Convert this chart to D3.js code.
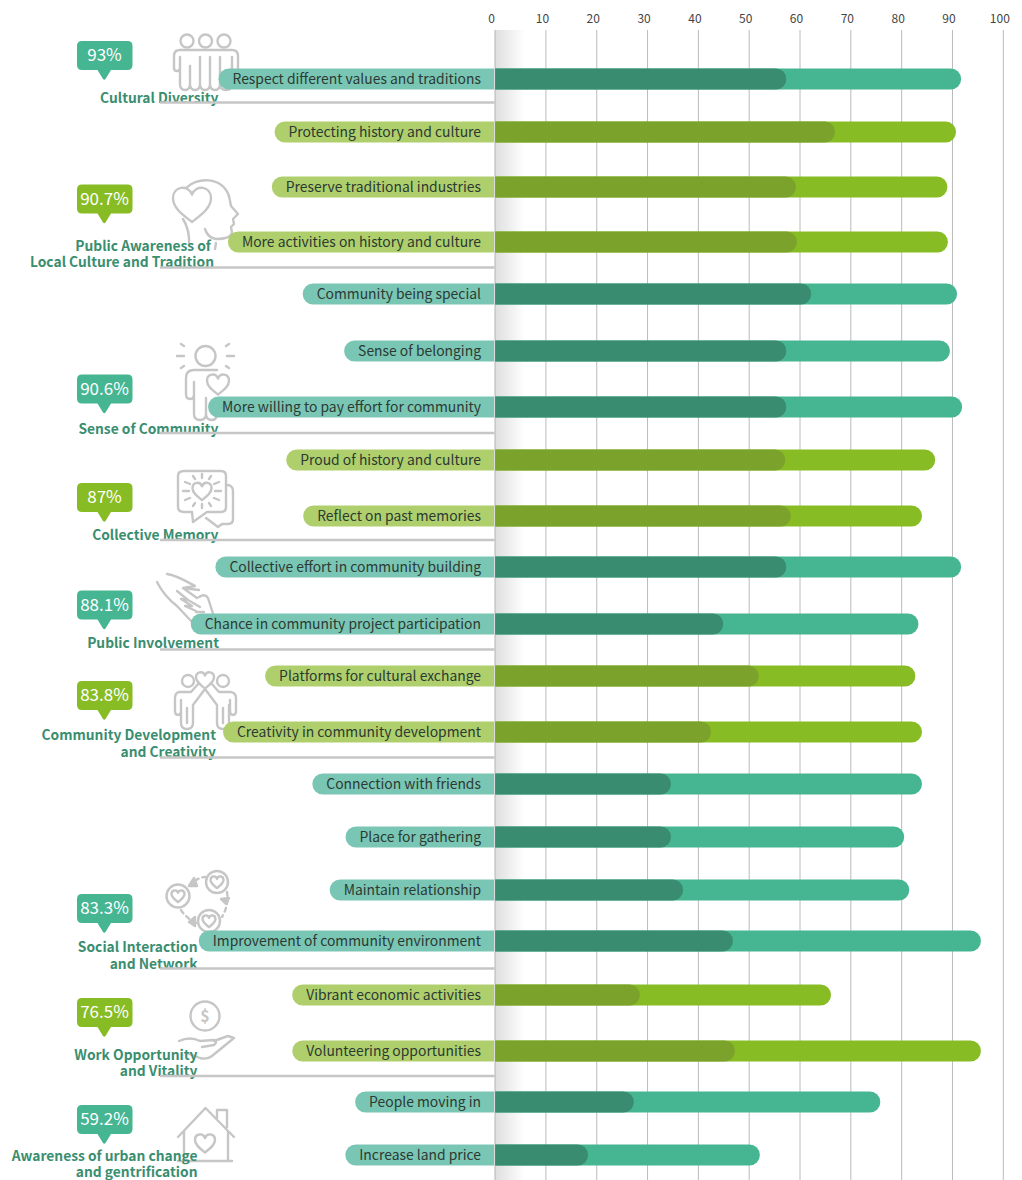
<!DOCTYPE html>
<html>
<head>
<meta charset="utf-8">
<script src="https://cdn.jsdelivr.net/npm/d3@7"></script>
<style>
  html, body { margin: 0; padding: 0; background: #fff; }
  svg { display: block; }
  text { font-family: "Noto Sans CJK TC", "Noto Sans", sans-serif; }
</style>
</head>
<body>
<div id="chart"></div>
<script>
// data
const categories = [
  "Respect different values and traditions", "Protecting history and culture",
  "Preserve traditional industries", "More activities on history and culture",
  "Community being special", "Sense of belonging",
  "More willing to pay effort for community", "Proud of history and culture",
  "Reflect on past memories", "Collective effort in community building",
  "Chance in community project participation", "Platforms for cultural exchange",
  "Creativity in community development", "Connection with friends",
  "Place for gathering", "Maintain relationship",
  "Improvement of community environment", "Vibrant economic activities",
  "Volunteering opportunities", "People moving in", "Increase land price"
];
const totalValues = [91.8, 90.8, 89.1, 89.2, 91, 89.6, 92, 86.7, 84.1, 91.8, 83.4, 82.8, 84.1, 84.1, 80.6, 81.6, 95.7, 66.2, 95.7, 75.9, 52.2];
const strongValues = [57.4, 67, 59.3, 59.5, 62.3, 57.4, 57.4, 57.2, 58.3, 57.4, 45, 52, 42.6, 34.7, 34.7, 37.1, 46.9, 28.6, 47.3, 27.4, 18.4];
const barTheme = [0, 1, 1, 1, 0, 0, 0, 1, 1, 0, 0, 1, 1, 0, 0, 0, 0, 1, 1, 0, 0];
const axisTicks = [0, 10, 20, 30, 40, 50, 60, 70, 80, 90, 100];

const groupNames = [
  ["Cultural Diversity"],
  ["Public Awareness of", "Local Culture and Tradition"],
  ["Sense of Community"],
  ["Collective Memory"],
  ["Public Involvement"],
  ["Community Development", "and Creativity"],
  ["Social Interaction", "and Network"],
  ["Work Opportunity", "and Vitality"],
  ["Awareness of urban change", "and gentrification"]
];
const groupPercents = ["93%", "90.7%", "90.6%", "87%", "88.1%", "83.8%", "83.3%", "76.5%", "59.2%"];
const groupTheme = [0, 1, 0, 1, 0, 1, 0, 1, 0];

// layout, the rows are not evenly spaced in the original
const rowCentres = [79, 132, 187, 242, 294, 351, 407, 460, 516, 567, 624, 676, 732, 784, 837, 890, 941, 995, 1051, 1102, 1155];
const calloutTops = [41, 184.5, 374.5, 483, 590.5, 681, 894, 998, 1105];
const ruleYs = [102.5, 267.5, 433, 540, 649.5, 757.5, 968.5, 1076];
const nameRights = [218.5, 214, 218.5, 218.5, 219, 216, 197.5, 197.5, 197.5];
const nameBaselines = [[103], [251, 267], [434], [540], [648], [740, 757], [952, 969], [1060, 1076], [1161, 1177]];

const colors = {
  bar: ["#46b592", "#88bc24"],
  strong: ["#398c6f", "#7ba32c"],
  pill: ["#7ac6b4", "#afcf6c"],
  callout: ["#46b592", "#88bc24"],
  name: "#3a8e70",
  grey: "#c6c6c6"
};

const width = 1022, height = 1180, barH = 21;

const svg = d3.select("#chart").append("svg")
  .attr("width", width)
  .attr("height", height);

const x = d3.scaleLinear([0, 100], [494.6, 1002.8]);
const y = d3.scaleOrdinal(categories, rowCentres);

// fade next to the zero line
const grad = svg.append("defs").append("linearGradient").attr("id", "fade");
grad.append("stop").attr("offset", 0).attr("stop-color", "#dedede");
grad.append("stop").attr("offset", 1).attr("stop-color", "#fff");
svg.append("rect")
  .attr("x", x(0)).attr("y", 30)
  .attr("width", 30).attr("height", height - 30)
  .attr("fill", "url(#fade)");

// axis and grid
const axis = svg.append("g")
  .attr("transform", "translate(0,30)")
  .call(d3.axisTop(x).tickValues(axisTicks).tickSize(-(height - 30)).tickPadding(7));
axis.select(".domain").remove();
axis.selectAll("line").attr("stroke", "#bbb");
axis.selectAll("text")
  .attr("x", -3.5)
  .attr("font-size", 12)
  .attr("fill", "#444");

// small heart used inside the icons
function heart(cx, cy, s) {
  return `M${cx},${cy + s * 0.95}
    C${cx - s * 0.5},${cy + s * 0.55} ${cx - s},${cy + s * 0.2} ${cx - s},${cy - s * 0.3}
    C${cx - s},${cy - s * 0.95} ${cx - s * 0.2},${cy - s * 1.05} ${cx},${cy - s * 0.5}
    C${cx + s * 0.2},${cy - s * 1.05} ${cx + s},${cy - s * 0.95} ${cx + s},${cy - s * 0.3}
    C${cx + s},${cy + s * 0.2} ${cx + s * 0.5},${cy + s * 0.55} ${cx},${cy + s * 0.95}Z`;
}

const icons = svg.append("g")
  .attr("fill", "none")
  .attr("stroke", colors.grey)
  .attr("stroke-width", 2.4)
  .attr("stroke-linecap", "round")
  .attr("stroke-linejoin", "round");

const iconPaths = [
  // three people
  `M174,68 V56 Q174,50 180,50 H232 Q238,50 238,56 V68 Q238,71 235,71 Q232,71 232,68 V57
   M174,68 Q174,71 177,71 Q180,71 180,68 V57
   M180,62 V84 Q180,90 185,90 Q190,90 190,84 V66 M190,84 Q190,90 195,90 Q200,90 200,84 V57
   M200,62 V84 Q200,90 205,90 Q210,90 210,84 V57 M210,84 Q210,90 215,90 Q220,90 220,84 V57
   M220,62 V84 Q220,90 226,90 Q232,90 232,84 V62`,
  // head with a heart
  `${heart(192, 204, 19)}
   M186,188 C196,177 222,176 229,196 L231,206 L238,214 L233,219 L234,224 L231,227 L232,233 Q230,239 216,239 Q208,238 205,229
   M183,219 Q190,230 189,245 M216,243 L215,249`,
  // person with rays
  `${heart(218, 384, 11)}
   M217,370 H194 Q186,370 186,378 V394 Q186,399 190,399 Q194,399 194,394 V382
   M194,392 V414 Q194,420 200,420 Q206,420 206,414 V398 M206,414 Q206,420 212,420 Q216,420 218,414
   M177,356 H184 M227,356 H234 M181,344 L184,346 M229,344 L226,346 M181,368 L184,366 M229,368 L226,366`,
  // speech bubbles
  `M184,471 H221 Q226,471 226,476 V507 Q226,512 221,512 H207 L193,522 L192,512 H184 Q178,512 178,507 V476 Q178,471 184,471Z
   M228,485 Q233,486 233,491 V519 Q233,524 228,524 H222 L218,527 L206,518
   ${heart(202, 491, 9.5)}
   M183,491 H189 M215,491 H221 M202,474 V478 M202,504 V508
   M193,476 L195,479 M211,476 L209,479 M193,506 L195,503 M211,506 L209,503
   M185,482 L190,484 M219,482 L214,484 M185,500 L190,498 M219,500 L214,498`,
  // two hands
  `M167,574 C176,575 186,581 195,586 L183,588 L199,590
   M157,582 Q164,596 177,606 L193,623
   M177,591 L188,600 L181,599 L192,606 L185,606 L196,611
   M183,588 L197,598 M188,600 L200,607
   M199,597 Q205,593 208,598 L215,620
   M196,612 L204,612 M199,617 L206,617`,
  // two people and a heart
  `${heart(205, 680, 9)}
   M179,692 Q175,693 175,698 V711 Q175,715 178,715 Q181,715 181,711 V700
   M181,705 V723 Q181,729 187,729 Q193,729 193,723 V712 M187,708 V723 M193,723 Q193,708 193,705 L205,689 L217,705 V723
   M217,723 Q217,729 223,729 Q229,729 229,723 V705 M223,708 V723
   M179,692 H191 L199,683 M231,692 H219 L211,683
   M231,692 Q236,693 236,698 V711 Q236,715 233,715 Q230,715 230,711 V700`,
  // circle of hearts
  `${heart(178, 896, 6.5)} ${heart(217, 882, 6.5)} ${heart(209, 921, 6.5)}`,
  // coin on a hand
  `M179,1041 Q190,1036 200,1041 L214,1040 Q218,1042 214,1045 L202,1047
   M214,1041 L228,1036 L234,1038 L212,1056 Q207,1060 200,1058 L187,1053`,
  // house
  `M178,1137 L205.5,1108 L234,1137 M184,1131 V1161 M228,1131 V1161 M178,1161 H232
   M217,1118 V1110 H227 V1127
   ${heart(205, 1143, 10)}`
];
icons.selectAll("path.icon").data(iconPaths).join("path")
  .attr("class", "icon")
  .attr("d", d => d);

// bits that are not plain outlines
icons.selectAll("circle.head")
  .data([[187, 41, 6.5], [205.5, 41, 6.5], [224, 41, 6.5], [205.5, 356, 10], [188, 681, 6], [223, 681, 6],
    [178, 896, 11.5], [217, 882, 11], [209, 921, 11], [205, 1016, 14.5]])
  .join("circle")
  .attr("class", "head")
  .attr("cx", d => d[0]).attr("cy", d => d[1]).attr("r", d => d[2]);
icons.append("path")
  .attr("stroke-dasharray", "4 4")
  .attr("d", "M189,886 Q198,877 205,877 M227,892 Q229,905 222,917 M196,923 Q186,918 181,910");
icons.append("path")
  .attr("fill", colors.grey)
  .attr("d", "M194,878 L189,886 L197,886Z M221,899 L226,904 L229,898Z M195,917 L189,922 L195,926Z");
svg.append("text")
  .attr("x", 205).attr("y", 1022)
  .attr("text-anchor", "middle")
  .attr("font-size", 16).attr("font-weight", 700)
  .attr("fill", colors.grey)
  .text("$");

// group names go under the rules
svg.append("g")
  .selectAll("text")
  .data(groupNames.flatMap((lines, i) => lines.map((t, j) => ({ t, i, j }))))
  .join("text")
  .attr("x", d => nameRights[d.i] - (d.i === 1 && d.j === 0 ? 3 : 0))
  .attr("y", d => nameBaselines[d.i][d.j])
  .attr("text-anchor", "end")
  .attr("font-size", 13.8)
  .attr("font-weight", 700)
  .attr("fill", colors.name)
  .text(d => d.t);

svg.append("g")
  .selectAll("line")
  .data(ruleYs)
  .join("line")
  .attr("x1", 160).attr("x2", x(0))
  .attr("y1", d => d).attr("y2", d => d)
  .attr("stroke", colors.grey)
  .attr("stroke-width", 2.4);

// callouts
const callouts = svg.append("g")
  .selectAll("g")
  .data(groupPercents)
  .join("g")
  .attr("transform", (d, i) => `translate(77,${calloutTops[i]})`);
callouts.append("path")
  .attr("fill", (d, i) => colors.callout[groupTheme[i]])
  .attr("d", "M5,0 H50.5 Q55.5,0 55.5,5 V24 Q55.5,29 50.5,29 H34 L28.5,38 Q27.3,39.5 26,38 L20.5,29 H5 Q0,29 0,24 V5 Q0,0 5,0Z");
callouts.append("text")
  .attr("x", 27.5).attr("y", 20)
  .attr("text-anchor", "middle")
  .attr("font-size", 17)
  .attr("fill", "#fff")
  .text(d => d);

// right-rounded bar, from zero to v
function barPath(v, cy) {
  const x0 = x(0) + 0.6, x1 = x(v), r = barH / 2, top = cy - r;
  return `M${x0},${top} H${x1 - r} A${r},${r} 0 0 1 ${x1 - r},${top + barH} H${x0}Z`;
}

const rows = svg.append("g")
  .selectAll("g")
  .data(categories)
  .join("g");

rows.append("path")
  .attr("class", "pill");
rows.append("text")
  .attr("x", 481)
  .attr("y", d => y(d) + 5)
  .attr("text-anchor", "end")
  .attr("font-size", 13.9)
  .attr("fill", "#2b3a33")
  .text(d => d);
// pill grows to fit its label
rows.select("path.pill")
  .attr("fill", (d, i) => colors.pill[barTheme[i]])
  .attr("d", function (d) {
    const w = this.parentNode.querySelector("text").getComputedTextLength();
    const left = 481 - w - 14, r = barH / 2, top = y(d) - r;
    return `M${x(0) - 0.6},${top} H${left + r} A${r},${r} 0 0 0 ${left + r},${top + barH} H${x(0) - 0.6}Z`;
  });

rows.append("path")
  .attr("fill", (d, i) => colors.bar[barTheme[i]])
  .attr("d", (d, i) => barPath(totalValues[i], y(d)));
rows.append("path")
  .attr("fill", (d, i) => colors.strong[barTheme[i]])
  .attr("d", (d, i) => barPath(strongValues[i], y(d)));
</script>
</body>
</html>
